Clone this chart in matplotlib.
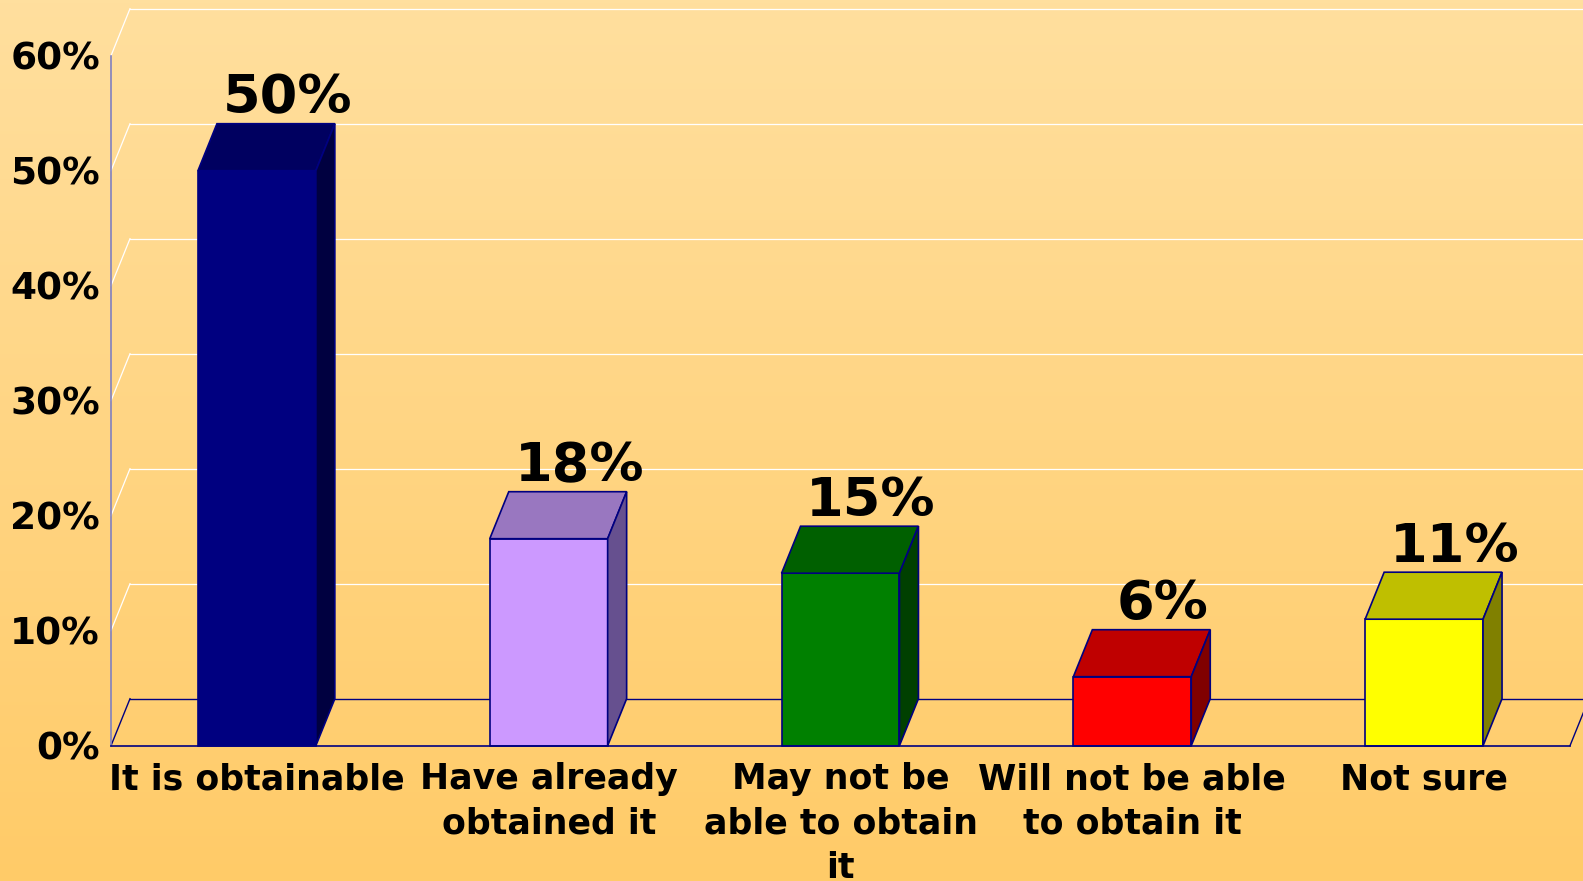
import numpy as np
import matplotlib.pyplot as plt
from matplotlib.patches import Polygon
from matplotlib.colors import LinearSegmentedColormap

# data
categories = ['It is obtainable', 'Have already\nobtained it', 'May not be\nable to obtain\nit',
              'Will not be able\nto obtain it', 'Not sure']
values = [50, 18, 15, 6, 11]
labels = ['50%', '18%', '15%', '6%', '11%']
front_colors = ['#000080', '#CC99FF', '#008000', '#FF0000', '#FFFF00']
top_colors = ['#000060', '#9977C0', '#006000', '#BF0000', '#BFBF00']
side_colors = ['#000040', '#66508F', '#004000', '#800000', '#808000']
yticks = [0, 10, 20, 30, 40, 50, 60]

W, H = 1583, 881
fig = plt.figure(figsize=(W / 100, H / 100), dpi=100)

# background gradient
bg = fig.add_axes([0, 0, 1, 1], zorder=-10)
cmap = LinearSegmentedColormap.from_list('bg', ['#FFDF9E', '#FFCB68'])
bg.imshow(np.linspace(0, 1, 256).reshape(-1, 1), aspect='auto', cmap=cmap, extent=[0, 1, 0, 1])
bg.axis('off')

# plot area (front plane)
ax = fig.add_axes([111 / W, 135.3 / H, 1459 / W, 690 / H])
ax.set_facecolor('none')
ax.set_xlim(-0.5, 4.5)
ax.set_ylim(0, 60)

# depth offset for the pseudo-3D look
dx = 19 / 291.8
dy = 47 / 11.5

x = np.arange(len(values))
navy = '#000080'

# back wall gridlines and side wall
for t in yticks:
    if t == 0:
        continue
    ax.plot([-0.5 + dx, 4.62], [t + dy, t + dy], color='white', lw=0.9, zorder=1, clip_on=False)
    ax.plot([-0.5, -0.5 + dx], [t, t + dy], color='white', lw=0.9, zorder=1, clip_on=False)

# floor
ax.plot([-0.5 + dx, 4.62], [dy, dy], color=navy, lw=1.0, zorder=1, clip_on=False)
ax.plot([-0.5, -0.5 + dx], [0, dy], color=navy, lw=1.0, zorder=1, clip_on=False)
ax.plot([4.5, 4.5 + dx], [0, dy], color=navy, lw=1.0, zorder=1, clip_on=False)

bw = 0.404
ax.bar(x, values, width=bw, color=front_colors, edgecolor=navy, linewidth=1.2, zorder=3, clip_on=False)
for xi, v, tc, sc, lab in zip(x, values, top_colors, side_colors, labels):
    l, r = xi - bw / 2, xi + bw / 2
    top = Polygon([(l, v), (r, v), (r + dx, v + dy), (l + dx, v + dy)], closed=True,
                  facecolor=tc, edgecolor=navy, lw=1.2, zorder=3, clip_on=False)
    side = Polygon([(r, 0), (r + dx, dy), (r + dx, v + dy), (r, v)], closed=True,
                   facecolor=sc, edgecolor=navy, lw=1.2, zorder=3, clip_on=False)
    ax.add_patch(top)
    ax.add_patch(side)
    ax.text(xi + 0.105, v + dy + 0.9, lab, ha='center', va='baseline', fontsize=39,
            fontweight='bold', color='black', zorder=5, clip_on=False)

# axes styling
for s in ['top', 'right']:
    ax.spines[s].set_visible(False)
ax.spines['left'].set_color('#8080C0')
ax.spines['left'].set_linewidth(1.2)
ax.spines['bottom'].set_color(navy)
ax.spines['bottom'].set_linewidth(1.2)
ax.spines['bottom'].set_zorder(4)

ax.set_yticks(yticks)
ax.set_yticklabels([f'{t}%' for t in yticks], fontsize=27, fontweight='bold')
ax.set_xticks(x)
ax.set_xticklabels(categories, fontsize=25, fontweight='bold', linespacing=1.375)
ax.tick_params(axis='both', length=0)
ax.tick_params(axis='y', pad=8)
ax.tick_params(axis='x', pad=12)

fig.savefig('out.png', dpi=100)
